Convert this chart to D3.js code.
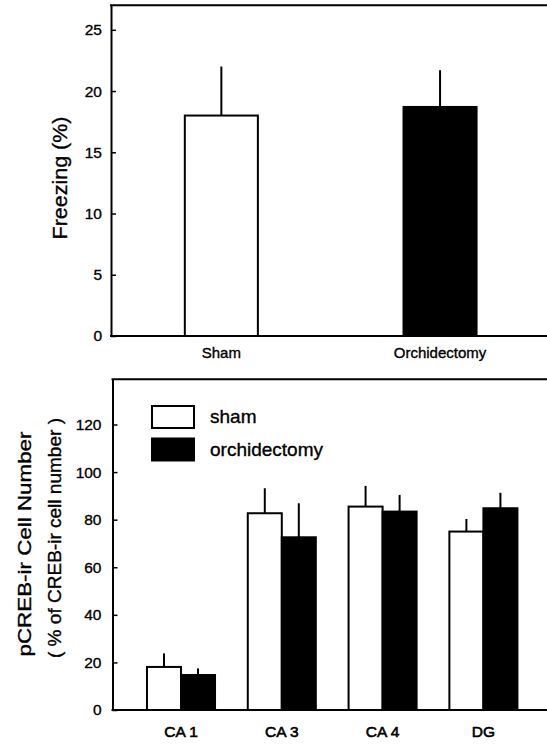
<!DOCTYPE html>
<html>
<head>
<meta charset="utf-8">
<script src="https://cdn.jsdelivr.net/npm/d3@7"></script>
<style>
body { margin: 0; background: #fff; }
text { font-family: "Liberation Sans", Arial, sans-serif; fill: #000; stroke: #000; stroke-width: 0.35px; }
</style>
</head>
<body>
<svg id="chart" width="547" height="745"></svg>
<script>
// top panel: freezing
var groups = ["Sham", "Orchidectomy"];
var freezing = [18.0, 18.7];
var freezingSem = [4.0, 3.0];
var freezingTicks = [0, 5, 10, 15, 20, 25];

// bottom panel: pCREB-ir cells
var regions = ["CA 1", "CA 3", "CA 4", "DG"];
var series = ["sham", "orchidectomy"];
var shamValues = [18.1, 82.7, 85.5, 75.0];
var shamSem = [5.7, 10.5, 8.7, 5.3];
var orchValues = [14.7, 72.6, 83.4, 84.8];
var orchSem = [2.8, 14.3, 7.0, 6.5];
var pcrebTicks = [0, 20, 40, 60, 80, 100, 120];

var fills = {sham: "#fff", orchidectomy: "#000"};
var svg = d3.select("#chart");

function styleAxis(g) {
  g.select(".domain").attr("stroke-width", 2);
  g.selectAll(".tick line").attr("stroke-width", 1.5);
  g.selectAll(".tick text").attr("font-size", 15.5)
    .attr("font-family", "Liberation Sans, Arial, sans-serif");
}

// ---------- top ----------
var topG = svg.append("g");
var y1 = d3.scaleLinear().domain([0, 27]).range([336, 5.3]);
var x1 = d3.scaleBand().domain(groups).range([112, 549.4])
  .paddingInner(0.666).paddingOuter(0.333);
var left1 = 111, right1 = 560;

topG.append("g")
  .attr("transform", "translate(" + left1 + ",0)")
  .call(d3.axisLeft(y1).tickValues(freezingTicks).tickSizeInner(-5).tickSizeOuter(0).tickPadding(9))
  .call(styleAxis);

topG.append("line").attr("x1", left1 - 1).attr("x2", right1)
  .attr("y1", y1.range()[1]).attr("y2", y1.range()[1])
  .attr("stroke", "#000").attr("stroke-width", 2);
topG.append("line").attr("x1", left1 - 1).attr("x2", right1)
  .attr("y1", y1(0)).attr("y2", y1(0))
  .attr("stroke", "#000").attr("stroke-width", 2);

topG.selectAll(".err").data(groups).enter().append("line")
  .attr("x1", function(d) { return x1(d) + x1.bandwidth() / 2; })
  .attr("x2", function(d) { return x1(d) + x1.bandwidth() / 2; })
  .attr("y1", function(d, i) { return y1(freezing[i]); })
  .attr("y2", function(d, i) { return y1(freezing[i] + freezingSem[i]); })
  .attr("stroke", "#000").attr("stroke-width", 2);

topG.selectAll(".bar").data(groups).enter().append("rect")
  .attr("x", function(d) { return x1(d); })
  .attr("width", x1.bandwidth())
  .attr("y", function(d, i) { return y1(freezing[i]); })
  .attr("height", function(d, i) { return y1(0) - y1(freezing[i]); })
  .attr("fill", function(d, i) { return i == 0 ? "#fff" : "#000"; })
  .attr("stroke", "#000").attr("stroke-width", 2);

topG.selectAll(".lab").data(groups).enter().append("text")
  .attr("x", function(d) { return x1(d) + x1.bandwidth() / 2; })
  .attr("y", 358)
  .attr("text-anchor", "middle")
  .attr("font-size", 15)
  .text(function(d) { return d; });

topG.append("text")
  .attr("transform", "translate(67,178) rotate(-90)")
  .attr("text-anchor", "middle")
  .attr("font-size", 20)
  .attr("textLength", 123)
  .attr("lengthAdjust", "spacingAndGlyphs")
  .text("Freezing (%)");

// ---------- bottom ----------
var bot = svg.append("g");
var y2 = d3.scaleLinear().domain([0, 139]).range([710, 379.3]);
var x2 = d3.scaleBand().domain(regions).range([130.6, 533.8])
  .paddingInner(0.325).paddingOuter(0.1625);
var xs = d3.scaleBand().domain(series).range([0, x2.bandwidth()]);
var left2 = 112.5, right2 = 560;

var rows = [];
regions.forEach(function(r, i) {
  rows.push({region: r, key: "sham", value: shamValues[i], sem: shamSem[i]});
  rows.push({region: r, key: "orchidectomy", value: orchValues[i], sem: orchSem[i]});
});

bot.append("g")
  .attr("transform", "translate(" + left2 + ",0)")
  .call(d3.axisLeft(y2).tickValues(pcrebTicks).tickSizeInner(-5).tickSizeOuter(0).tickPadding(11))
  .call(styleAxis);

bot.append("line").attr("x1", left2 - 1).attr("x2", right2)
  .attr("y1", y2.range()[1]).attr("y2", y2.range()[1])
  .attr("stroke", "#000").attr("stroke-width", 2);
bot.append("line").attr("x1", left2 - 1).attr("x2", right2)
  .attr("y1", y2(0)).attr("y2", y2(0))
  .attr("stroke", "#000").attr("stroke-width", 2);

bot.selectAll(".err").data(rows).enter().append("line")
  .attr("x1", function(d) { return x2(d.region) + xs(d.key) + xs.bandwidth() / 2; })
  .attr("x2", function(d) { return x2(d.region) + xs(d.key) + xs.bandwidth() / 2; })
  .attr("y1", function(d) { return y2(d.value); })
  .attr("y2", function(d) { return y2(d.value + d.sem); })
  .attr("stroke", "#000").attr("stroke-width", 2);

bot.selectAll(".bar").data(rows).enter().append("rect")
  .attr("x", function(d) { return x2(d.region) + xs(d.key); })
  .attr("width", xs.bandwidth())
  .attr("y", function(d) { return y2(d.value); })
  .attr("height", function(d) { return y2(0) - y2(d.value); })
  .attr("fill", function(d) { return fills[d.key]; })
  .attr("stroke", "#000").attr("stroke-width", 2);

bot.selectAll(".lab").data(regions).enter().append("text")
  .attr("x", function(d) { return x2(d) + x2.bandwidth() / 2; })
  .attr("y", 737)
  .attr("text-anchor", "middle")
  .attr("font-size", 15.5)
  .style("stroke-width", "0.6px")
  .text(function(d) { return d; });

bot.append("text")
  .attr("transform", "translate(31,544) rotate(-90)")
  .attr("text-anchor", "middle")
  .attr("font-size", 18.5)
  .attr("textLength", 225)
  .attr("lengthAdjust", "spacingAndGlyphs")
  .text("pCREB-ir Cell Number");
bot.append("text")
  .attr("transform", "translate(61,538) rotate(-90)")
  .attr("text-anchor", "middle")
  .attr("font-size", 18)
  .attr("textLength", 240)
  .attr("lengthAdjust", "spacingAndGlyphs")
  .text("( % of CREB-ir cell number )");

// legend
var legend = bot.selectAll(".leg").data(series).enter().append("g")
  .attr("transform", function(d, i) { return "translate(152," + (406 + i * 32.5) + ")"; });
legend.append("rect")
  .attr("width", 42).attr("height", 22)
  .attr("fill", function(d) { return fills[d]; })
  .attr("stroke", "#000").attr("stroke-width", 2);
legend.append("text")
  .attr("x", 58).attr("y", 17)
  .attr("font-size", 19)
  .text(function(d) { return d; });
</script>
</body>
</html>
